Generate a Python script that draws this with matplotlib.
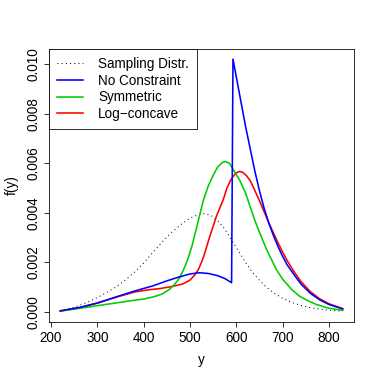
import matplotlib
matplotlib.use("Agg")
import matplotlib.pyplot as plt

plt.rcParams['font.family'] = ['Liberation Sans', 'DejaVu Sans']

# sampling distribution (dotted)
samp_x = [220, 240, 260, 280, 300, 320, 340, 360, 380, 400, 420, 440, 460, 480,
          500, 515, 530, 545, 560, 575, 590, 605, 620, 635, 650, 665, 680, 700,
          720, 740, 760, 780, 800, 830]
samp_y = [0.00005, 0.00014, 0.00025, 0.0004, 0.00058, 0.00078, 0.001, 0.00128,
          0.0016, 0.00197, 0.0024, 0.00282, 0.0032, 0.00352, 0.00378, 0.0039,
          0.00396, 0.0039, 0.00368, 0.00335, 0.0029, 0.00245, 0.002, 0.0016,
          0.00128, 0.001, 0.00078, 0.00055, 0.00038, 0.00026, 0.00017, 0.00011,
          0.00007, 0.00003]

# no constraint
free_x = [220, 260, 300, 340, 380, 420, 450, 475, 500, 520, 540, 560, 575, 590,
          593, 600, 610, 620, 630, 640, 650, 660, 670, 680, 690, 700, 710, 725,
          740, 760, 780, 800, 830]
free_y = [0.00004, 0.00017, 0.00036, 0.0006, 0.00084, 0.00105, 0.00125, 0.0014,
          0.00153, 0.00158, 0.00155, 0.00146, 0.00135, 0.00118, 0.0102, 0.0095,
          0.0085, 0.0075, 0.0066, 0.0057, 0.0049, 0.0042, 0.0036, 0.0031,
          0.00265, 0.00225, 0.0019, 0.0015, 0.00112, 0.00075, 0.00049, 0.0003,
          0.00012]

# symmetric
sym_x = [220, 268, 300, 340, 380, 400, 420, 440, 455, 465, 475, 485, 495, 505,
         513, 521, 529, 540, 550, 560, 570, 577, 585, 595, 608, 620, 630, 640,
         650, 666, 687, 701, 720, 737, 755, 773, 800, 830]
sym_y = [0.00003, 0.00016, 0.00025, 0.00036, 0.00047, 0.00052, 0.0006, 0.00072,
         0.0009, 0.00107, 0.0013, 0.00165, 0.0021, 0.0027, 0.0033, 0.0039,
         0.0045, 0.0051, 0.0055, 0.00585, 0.00603, 0.00607, 0.006, 0.0057,
         0.0053, 0.0048, 0.00425, 0.0037, 0.00322, 0.0025, 0.0017, 0.0013,
         0.0009, 0.00063, 0.00045, 0.0003, 0.00015, 0.00006]

# log-concave
lc_x = [220, 260, 300, 340, 380, 410, 435, 460, 485, 500, 510, 518, 525, 530,
        543, 557, 572, 580, 588, 596, 602, 608, 615, 622, 630, 637, 645, 650,
        660, 670, 680, 690, 700, 710, 725, 740, 760, 780, 800, 830]
lc_y = [0.00004, 0.00017, 0.00035, 0.00059, 0.0008, 0.00089, 0.00094, 0.00102,
        0.00113, 0.00128, 0.00148, 0.0017, 0.002, 0.00225, 0.00305, 0.00385,
        0.00453, 0.005, 0.00532, 0.00553, 0.00563, 0.00567, 0.00562, 0.0055,
        0.0053, 0.00503, 0.0047, 0.0045, 0.00405, 0.00362, 0.0032, 0.0028,
        0.00242, 0.00207, 0.00162, 0.00122, 0.00082, 0.00053, 0.00033, 0.00013]

xticks = [200, 300, 400, 500, 600, 700, 800]
yticks = [0.000, 0.002, 0.004, 0.006, 0.008, 0.010]

fs = 13.5
fig = plt.figure(figsize=(382 / 72, 382 / 72), dpi=72)
ax = fig.add_axes([49 / 382, 60 / 382, 305 / 382, 273 / 382])

ax.plot(samp_x, samp_y, color="black", lw=1.0, linestyle=(0, (1, 3.2)),
        label="Sampling Distr.", zorder=2)
ax.plot(free_x, free_y, color="blue", lw=1.6, label="No Constraint", zorder=5)
ax.plot(sym_x, sym_y, color="#00CD00", lw=1.6, label="Symmetric", zorder=4)
ax.plot(lc_x, lc_y, color="red", lw=1.6, label="Log\u2212concave", zorder=3)

ax.set_xlim(195.6, 854.4)
ax.set_ylim(-0.000408, 0.010608)
ax.set_xticks(xticks)
ax.set_yticks(yticks)
ax.set_yticklabels([f"{v:.3f}" for v in yticks], rotation=90, va="center")
ax.tick_params(direction="out", length=5, width=0.8, labelsize=fs, pad=4,
               top=False, right=False)
for s in ax.spines.values():
    s.set_linewidth(0.8)

ax.set_xlabel("y", fontsize=fs, labelpad=8)
ax.set_ylabel("f(y)", fontsize=fs, labelpad=7)

leg = ax.legend(loc="upper left", fontsize=fs, frameon=True, fancybox=False,
                framealpha=1, edgecolor="black", borderaxespad=0,
                handlelength=1.95, handletextpad=1.1, labelspacing=0.2,
                borderpad=0.6)
leg.get_frame().set_linewidth(0.8)

fig.savefig("out.png", dpi=72)
